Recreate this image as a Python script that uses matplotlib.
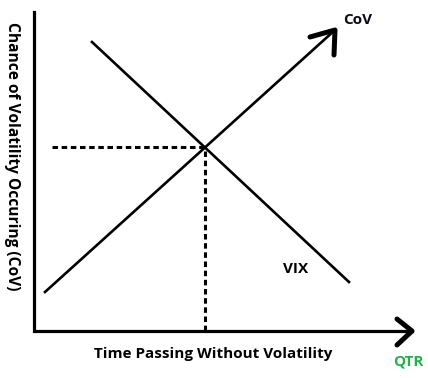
import matplotlib
matplotlib.use('Agg')
import matplotlib.pyplot as plt

# --- Data (diagram units: origin at the axis corner) ---
cov_x = [11, 301]
cov_y = [39, 301]
vix_x = [58, 315]
vix_y = [289, 49]
dash_start_x = 18

x_axis_end = 378
y_axis_end = 319


def intersect(x1, y1, x2, y2):
    m1 = (y1[1] - y1[0]) / (x1[1] - x1[0])
    m2 = (y2[1] - y2[0]) / (x2[1] - x2[0])
    b1 = y1[0] - m1 * x1[0]
    b2 = y2[0] - m2 * x2[0]
    xi = (b2 - b1) / (m1 - m2)
    return xi, m1 * xi + b1


fig = plt.figure(figsize=(4.28, 3.78), dpi=100)
fig.patch.set_facecolor('white')
# axes box matches pixel area 34..410 x 12..331
ax = fig.add_axes([34 / 428, (378 - 331) / 378, 376 / 428, 319 / 378])
ax.set_xlim(0, 376)
ax.set_ylim(0, 319)
ax.axis('off')

# axes lines
ax.plot([0, 0, x_axis_end], [y_axis_end, 0, 0], color='black', lw=2.3,
        solid_joinstyle='miter', clip_on=False)
# x-axis chevron
ax.plot([x_axis_end - 15, x_axis_end, x_axis_end - 15], [12, 0, -14],
        color='black', lw=3.6, solid_capstyle='round', clip_on=False)

# main lines
ax.plot(cov_x, cov_y, color='black', lw=1.9, clip_on=False)
ax.plot(vix_x, vix_y, color='black', lw=1.9, clip_on=False)

# CoV arrow head
tip_x, tip_y = cov_x[1], cov_y[1]
ax.plot([tip_x - 25, tip_x, tip_x - 1], [tip_y - 7, tip_y, tip_y - 25],
        color='black', lw=3.6, solid_capstyle='round', clip_on=False)

# dashed guides to intersection
xi, yi = intersect(cov_x, cov_y, vix_x, vix_y)
dash = (0, (1.8, 1.2))
ax.plot([dash_start_x, xi], [yi, yi], color='black', lw=2.2,
        linestyle=dash, clip_on=False)
ax.plot([xi, xi], [yi - 4, 0], color='black', lw=2.2,
        linestyle=dash, clip_on=False)

# labels
font = 'Open Sans'
fs = 11
ax.text(324, 311, 'CoV', fontsize=fs, fontweight='bold', family=font,
        ha='center', va='center', color='#0a0a1a', clip_on=False)
ax.text(262, 62, 'VIX', fontsize=fs, fontweight='bold', family=font,
        ha='center', va='center', color='black', clip_on=False)
fig.text(213 / 428, 1 - 354 / 378, 'Time Passing Without Volatility',
         fontsize=fs, fontweight='bold', family=font,
         ha='center', va='center', color='black')
fig.text(408 / 428, 1 - 362 / 378, 'QTR', fontsize=fs, fontweight='bold',
         family=font, ha='center', va='center', color='#22b14c')
fig.text(12 / 428, 1 - 156 / 378, 'Chance of Volatility Occuring (CoV)',
         fontsize=11.2, fontweight='bold', family=font, rotation=270,
         ha='center', va='center', color='black')

fig.savefig('out.png', dpi=100, facecolor='white')
